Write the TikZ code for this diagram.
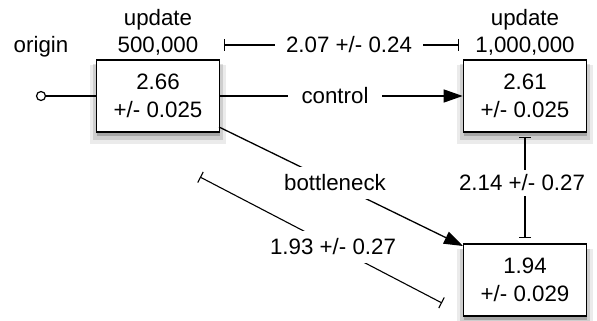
\documentclass[tikz,border=0pt]{standalone}
\usepackage{fontspec}
\setmainfont{Liberation Sans}
\usetikzlibrary{arrows.meta,shadows}
\begin{document}
\begin{tikzpicture}[x=1pt,y=-1pt,
  every node/.style={font=\fontsize{22.3}{28}\selectfont},
  valbox/.style={draw, line width=1.6pt, fill=white, minimum width=123pt, minimum height=72pt, align=center, inner sep=0pt,
    general shadow={fill=black, opacity=0.08, shadow yshift=-8pt, shadow scale=1.1},
    general shadow={fill=black, opacity=0.12, shadow yshift=-6pt, shadow scale=1.05},
    general shadow={fill=black, opacity=0.2, shadow yshift=-4pt, shadow scale=1.0}},
  lbl/.style={inner sep=0pt},
  gaplbl/.style={fill=white, inner xsep=3pt, inner ysep=3pt},
  conn/.style={line width=1.3pt},
  meas/.style={line width=1.1pt}]
\useasboundingbox (0,0) rectangle (597,321);
% boxes
\node[valbox] (A) at (158,96) {2.66\\+/- 0.025};
\node[valbox] (B) at (525,96) {2.61\\+/- 0.025};
\node[valbox] (C) at (525,280) {1.94\\+/- 0.029};
% top labels
\node[lbl, anchor=base] (upA) at (158,26) {update};
\node[lbl, anchor=base] (numA) at (158,53) {500,000};
\node[lbl, anchor=base] (upB) at (525,26) {update};
\node[lbl, anchor=base] (numB) at (525,53) {1,000,000};
\node[lbl, anchor=base] (orig) at (41,53) {origin};
% origin
\node[draw, circle, line width=1.2pt, minimum size=9pt, inner sep=0pt, fill=white] (o) at (41,96) {};
\draw[conn] (o) -- (A.west);
% control
\draw[conn, -{Triangle[length=19pt,width=13pt]}] (A.east) -- (B.west);
\node[gaplbl, inner xsep=14pt] (ctl) at (335,96) {control};
% bottleneck
\coordinate (bs) at (219,127);
\coordinate (be) at (463,246);
\draw[conn, -{Triangle[length=19pt,width=13pt]}] (bs) -- (be);
\node[gaplbl, inner ysep=8pt] (bn) at (335,183) {bottleneck};
% top measurement
\coordinate (t1) at (224,45);
\coordinate (t2) at (459,45);
\draw[meas, {Bar[width=12pt]}-{Bar[width=12pt]}] (t1) -- (t2);
\node[gaplbl, inner xsep=11pt] (tm) at (349,45) {2.07 +/- 0.24};
% vertical measurement
\coordinate (v1) at (525,137);
\coordinate (v2) at (525,238);
\draw[meas, {Bar[width=12pt]}-{Bar[width=12pt]}] (v1) -- (v2);
\node[gaplbl, inner ysep=5pt] (vm) at (522,183) {2.14 +/- 0.27};
% diagonal measurement
\coordinate (d1) at (200,177);
\coordinate (d2) at (442,303);
\draw[meas, {Bar[width=12pt]}-{Bar[width=12pt]}] (d1) -- (d2);
\node[gaplbl, inner ysep=8pt] (dm) at (333,247) {1.93 +/- 0.27};
\end{tikzpicture}
\end{document}
